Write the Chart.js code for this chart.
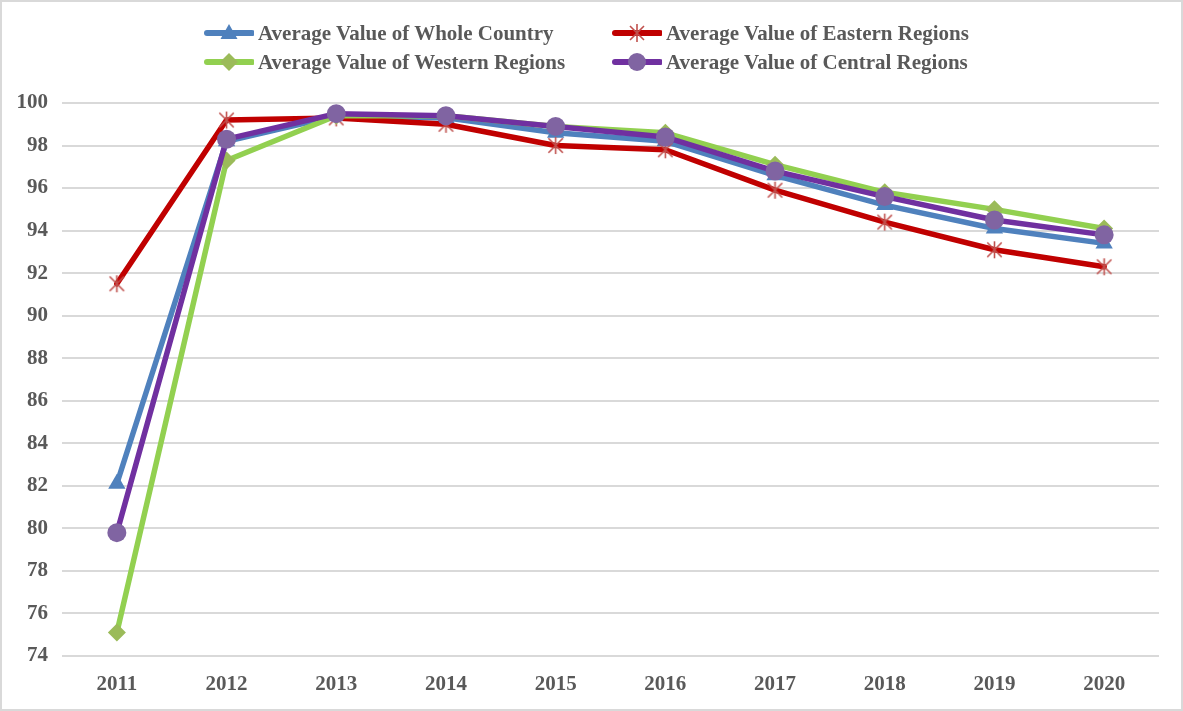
<!DOCTYPE html>
<html>
<head>
<meta charset="utf-8">
<script src="https://cdn.jsdelivr.net/npm/chart.js@4.4.0/dist/chart.umd.min.js"></script>
<style>
    body { margin: 0; background: #fff; }
    #wrap { position: relative; width: 1183px; height: 711px; }
    #legend { position: absolute; left: 0; top: 0; width: 100%; height: 0; }
    .item {
        position: absolute;
        display: flex;
        align-items: center;
        height: 24px;
        font: bold 21px "Liberation Serif", "Times New Roman", serif;
        color: #595959;
        white-space: nowrap;
    }
    .item svg { margin-right: 4px; }
</style>
</head>
<body>
<div id="wrap">
    <canvas id="lineChart" width="1183" height="711"></canvas>
    <div id="legend"></div>
</div>
<script>
// data
const years = ['2011', '2012', '2013', '2014', '2015', '2016', '2017', '2018', '2019', '2020'];
const wholeCountry = [82.1, 98.2, 99.4, 99.3, 98.6, 98.2, 96.6, 95.2, 94.1, 93.4];
const easternRegions = [91.5, 99.2, 99.3, 99.0, 98.0, 97.8, 95.9, 94.4, 93.1, 92.3];
const westernRegions = [75.1, 97.3, 99.4, 99.4, 98.9, 98.6, 97.1, 95.8, 95.0, 94.1];
const centralRegions = [79.8, 98.3, 99.5, 99.4, 98.9, 98.4, 96.8, 95.6, 94.5, 93.8];
const seriesNames = [
    'Average Value of Whole Country',
    'Average Value of Eastern Regions',
    'Average Value of Western Regions',
    'Average Value of Central Regions'
];
const yTicks = { min: 74, max: 100, step: 2 };

const tickFont = { family: '"Liberation Serif", "Times New Roman", serif', size: 21, weight: 'bold' };

// Excel style asterisk marker (X plus vertical stroke)
function makeStar(r, color) {
    const c = document.createElement('canvas');
    const s = Math.ceil(r * 2 + 4);
    c.width = s; c.height = s;
    const g = c.getContext('2d');
    const m = s / 2;
    g.strokeStyle = color;
    g.lineWidth = 1.6;
    g.beginPath();
    const d = r * 0.85;
    g.moveTo(m - d, m - d); g.lineTo(m + d, m + d);
    g.moveTo(m + d, m - d); g.lineTo(m - d, m + d);
    g.moveTo(m, m - r); g.lineTo(m, m + r);
    g.stroke();
    return c;
}
const starPoint = makeStar(8.5, '#C0504D');

const series = [
    { label: seriesNames[0], data: wholeCountry, line: '#4F81BD', mark: '#4F81BD', style: 'triangle', radius: 10 },
    { label: seriesNames[1], data: easternRegions, line: '#C00000', mark: '#C0504D', style: starPoint, radius: 8.5 },
    { label: seriesNames[2], data: westernRegions, line: '#92D050', mark: '#9BBB59', style: 'rectRot', radius: 9 },
    { label: seriesNames[3], data: centralRegions, line: '#7030A0', mark: '#8064A2', style: 'circle', radius: 9.5 }
];

// chart.js draws dataset 0 on top, so feed them reversed (central ends up on top)
const datasets = series.slice().reverse().map(s => ({
    label: s.label,
    data: s.data,
    borderColor: s.line,
    backgroundColor: s.mark,
    borderWidth: 5.5,
    borderJoinStyle: 'round',
    borderCapStyle: 'round',
    tension: 0,
    pointStyle: s.style,
    pointRadius: s.radius,
    pointHoverRadius: s.radius,
    pointBorderWidth: 0,
    pointBackgroundColor: s.mark,
    pointBorderColor: s.mark
}));

const framePlugin = {
    id: 'frame',
    beforeDraw(chart) {
        const { ctx, width, height } = chart;
        ctx.save();
        ctx.fillStyle = '#fff';
        ctx.fillRect(0, 0, width, height);
        ctx.strokeStyle = '#d9d9d9';
        ctx.lineWidth = 2;
        ctx.strokeRect(1, 1, width - 2, height - 2);
        ctx.restore();
    }
};

new Chart(document.getElementById('lineChart'), {
    type: 'line',
    data: { labels: years, datasets: datasets },
    options: {
        responsive: false,
        animation: false,
        layout: { padding: { top: 103, right: 24, bottom: 0, left: 0 } },
        plugins: {
            legend: { display: false },
            tooltip: { enabled: false }
        },
        scales: {
            x: {
                offset: true,
                grid: { display: false },
                border: { display: false },
                ticks: { font: tickFont, color: '#595959', padding: 8, maxRotation: 0 },
                afterFit(scale) { scale.height = 55; }
            },
            y: {
                min: yTicks.min,
                max: yTicks.max,
                grid: { color: '#d9d9d9', lineWidth: 2, drawTicks: false },
                border: { display: false },
                ticks: { stepSize: yTicks.step, font: tickFont, color: '#595959', padding: 14 },
                afterFit(scale) { scale.width = 62; }
            }
        }
    },
    plugins: [framePlugin]
});

// html legend, two columns like the original
function legendIcon(s) {
    const ns = 'http://www.w3.org/2000/svg';
    const svg = document.createElementNS(ns, 'svg');
    svg.setAttribute('width', '54');
    svg.setAttribute('height', '22');
    const ln = document.createElementNS(ns, 'line');
    ln.setAttribute('x1', '7'); ln.setAttribute('x2', '52');
    ln.setAttribute('y1', '11'); ln.setAttribute('y2', '11');
    ln.setAttribute('stroke', s.line);
    ln.setAttribute('stroke-width', '6');
    ln.setAttribute('stroke-linecap', 'round');
    svg.appendChild(ln);
    let mk;
    if (s.style === 'triangle') {
        mk = document.createElementNS(ns, 'polygon');
        mk.setAttribute('points', '29,2 37.5,17 20.5,17');
        mk.setAttribute('fill', s.mark);
    } else if (s.style === 'rectRot') {
        mk = document.createElementNS(ns, 'polygon');
        mk.setAttribute('points', '29,2 38,11 29,20 20,11');
        mk.setAttribute('fill', s.mark);
    } else if (s.style === 'circle') {
        mk = document.createElementNS(ns, 'circle');
        mk.setAttribute('cx', '29'); mk.setAttribute('cy', '11'); mk.setAttribute('r', '9');
        mk.setAttribute('fill', s.mark);
    } else {
        mk = document.createElementNS(ns, 'path');
        mk.setAttribute('d', 'M22,4 L36,18 M36,4 L22,18 M29,2 L29,20');
        mk.setAttribute('stroke', s.mark);
        mk.setAttribute('stroke-width', '1.6');
    }
    svg.appendChild(mk);
    return svg;
}

const legendPos = [[200, 21], [608, 21], [200, 50], [608, 50]];
const legendBox = document.getElementById('legend');
series.forEach((s, i) => {
    const div = document.createElement('div');
    div.className = 'item';
    div.style.left = legendPos[i][0] + 'px';
    div.style.top = legendPos[i][1] + 'px';
    div.appendChild(legendIcon(s));
    const span = document.createElement('span');
    span.textContent = s.label;
    div.appendChild(span);
    legendBox.appendChild(div);
});
</script>
</body>
</html>
